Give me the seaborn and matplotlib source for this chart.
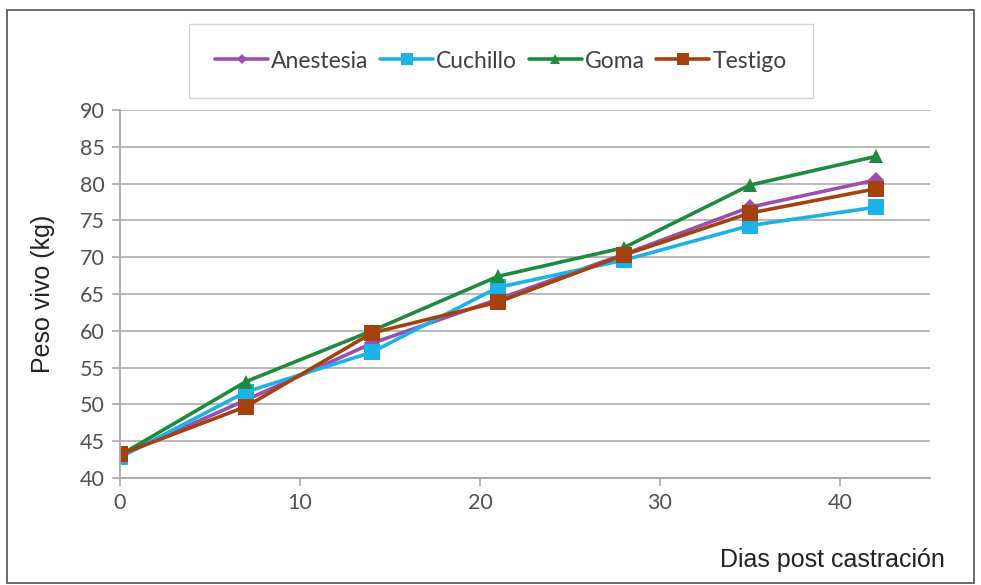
import matplotlib
matplotlib.use("Agg")
import matplotlib.pyplot as plt
import seaborn as sns
import pandas as pd
from matplotlib.patches import Rectangle

# Days after castration and live weight (kg) per treatment
dias = [0, 7, 14, 21, 28, 35, 42]
anestesia = [43.0, 50.6, 58.3, 64.3, 70.4, 76.8, 80.5]
cuchillo = [42.8, 51.7, 57.1, 65.9, 69.6, 74.3, 76.8]
goma = [43.1, 53.1, 60.0, 67.4, 71.3, 79.8, 83.7]
testigo = [43.2, 49.7, 59.7, 63.9, 70.3, 76.0, 79.3]

series = {
    "Anestesia": anestesia,
    "Cuchillo": cuchillo,
    "Goma": goma,
    "Testigo": testigo,
}
colores = {
    "Anestesia": "#9a4fae",
    "Cuchillo": "#1cb2e8",
    "Goma": "#1f8a3e",
    "Testigo": "#a5400f",
}
marcadores = {"Anestesia": "D", "Cuchillo": "s", "Goma": "^", "Testigo": "s"}
tamanos = {"Anestesia": 8, "Cuchillo": 11.5, "Goma": 10.5, "Testigo": 11.5}

df = pd.DataFrame(
    [(d, nombre, v) for nombre, vals in series.items() for d, v in zip(dias, vals)],
    columns=["dia", "tratamiento", "peso"],
)

sns.set_theme(style="white")
plt.rcParams["font.family"] = ["Liberation Sans", "DejaVu Sans"]

fig = plt.figure(figsize=(9.81, 5.85), dpi=100)
ax = fig.add_axes([120 / 981, 107 / 585, 810 / 981, 368 / 585])

sns.lineplot(
    data=df, x="dia", y="peso", hue="tratamiento", style="tratamiento",
    palette=colores, markers=marcadores, dashes=False, linewidth=2.6,
    markeredgewidth=0, ax=ax, legend=False,
)
for line, nombre in zip(ax.lines, series):
    line.set_markersize(tamanos[nombre])

ax.set_xlim(0, 45)
ax.set_ylim(40, 90)
ax.set_xticks([0, 10, 20, 30, 40])
ax.set_yticks(range(40, 91, 5))
ax.yaxis.grid(True, color="#b8b8b8", linewidth=1.4)
ax.xaxis.grid(False)
for s in ("top", "right"):
    ax.spines[s].set_visible(False)
for s in ("left", "bottom"):
    ax.spines[s].set_color("#a8a8a8")
    ax.spines[s].set_linewidth(1.3)
ax.tick_params(axis="both", which="major", direction="out", length=6,
               width=1.2, color="#a8a8a8", labelsize=15.5, labelcolor="#505050",
               left=True, bottom=True, pad=5)
for lab in ax.get_xticklabels() + ax.get_yticklabels():
    lab.set_family(["Lato", "DejaVu Sans"])

ax.set_xlabel("")
ax.set_ylabel("Peso vivo (kg)", fontsize=18, color="#222222", labelpad=18)
fig.text(945 / 981, 1 - 560 / 585, "Dias post castración", ha="right",
         va="center", fontsize=18, color="#222222")

# Legend in a framed box above the plot
handles = [
    plt.Line2D([], [], color=colores[n], marker=marcadores[n], linewidth=2.6,
               markersize=tamanos[n] * 0.7, markeredgewidth=0)
    for n in series
]
leg = fig.legend(
    handles, list(series), loc="center", bbox_to_anchor=(501 / 981, 1 - 61 / 585),
    ncol=4, frameon=True, fancybox=False, handlelength=2.3,
    handletextpad=0.15, columnspacing=0.5, borderpad=1.15,
    prop={"family": ["Lato", "DejaVu Sans"], "size": 16.5},
)
leg.get_frame().set_edgecolor("#c8c8c8")
leg.get_frame().set_linewidth(1.0)
for t in leg.get_texts():
    t.set_color("#404040")

# Outer border of the figure
fig.patches.append(Rectangle((7 / 981, 2 / 585), 967 / 981, 573 / 585,
                             transform=fig.transFigure, fill=False,
                             edgecolor="#505050", linewidth=1.2))

fig.savefig("out.png", dpi=100)
